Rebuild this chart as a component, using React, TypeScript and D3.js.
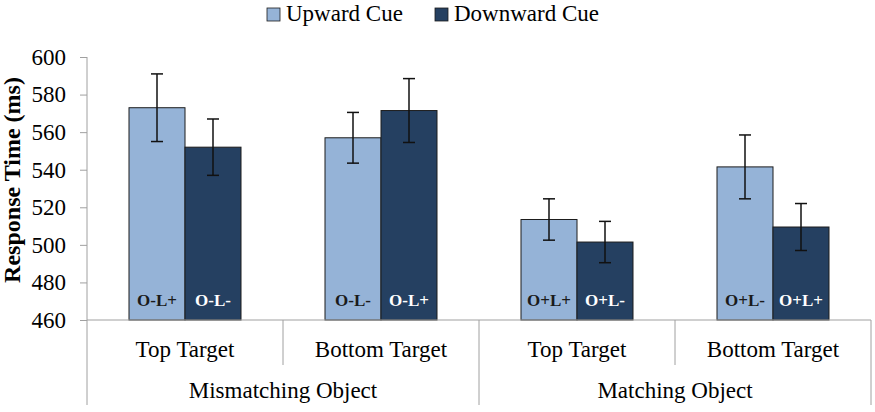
import React, { useRef, useEffect } from "react";
import * as d3 from "d3";

// data
const targets = ["Top Target", "Bottom Target", "Top Target", "Bottom Target"];
const objects = ["Mismatching Object", "Matching Object"];
const seriesNames = ["Upward Cue", "Downward Cue"];
const upward = [573, 557, 513.5, 541.5];
const downward = [552, 571.5, 501.5, 509.5];
const upwardErr = [18, 13.5, 11, 17];
const downwardErr = [15, 17, 11, 12.5];
const upwardTags = ["O-L+", "O-L-", "O+L+", "O+L-"];
const downwardTags = ["O-L-", "O-L+", "O+L-", "O+L+"];
const yTicks = [460, 480, 500, 520, 540, 560, 580, 600];

const colors = ["#95B3D7", "#254061"];
const tagColors = ["#1a1a1a", "#ffffff"];
const axisColor = "#a0a0a0";
const font = "Liberation Serif";

export default function App() {
  const ref = useRef<SVGSVGElement | null>(null);

  useEffect(() => {
    const W = 875;
    const H = 412;
    const left = 87;
    const right = 871;
    const top = 57;
    const bottom = 320;

    const svg = d3.select(ref.current);
    svg.selectAll("*").remove();
    svg.attr("width", W).attr("height", H).style("font-family", font);

    const idx = targets.map((d, i) => String(i));
    const x0 = d3.scaleBand().domain(idx).range([left, right]).padding(0);
    const x1 = d3
      .scaleBand()
      .domain(seriesNames)
      .range([0, x0.bandwidth()])
      .paddingInner(0)
      .paddingOuter(0.75);
    const y = d3.scaleLinear().domain([460, 600]).range([bottom, top]);

    // bars
    const rows = targets.map((t, i) => [
      { s: 0, v: upward[i], e: upwardErr[i], tag: upwardTags[i] },
      { s: 1, v: downward[i], e: downwardErr[i], tag: downwardTags[i] },
    ]);

    const g = svg
      .selectAll(".grp")
      .data(rows)
      .enter()
      .append("g")
      .attr("transform", (d, i) => `translate(${x0(String(i))},0)`);

    g.selectAll("rect")
      .data((d) => d)
      .enter()
      .append("rect")
      .attr("x", (d) => x1(seriesNames[d.s])!)
      .attr("y", (d) => y(d.v))
      .attr("width", x1.bandwidth())
      .attr("height", (d) => y(460) - y(d.v))
      .attr("fill", (d) => colors[d.s])
      .attr("stroke", "#1c1c1c")
      .attr("stroke-width", 1);

    g.selectAll(".tag")
      .data((d) => d)
      .enter()
      .append("text")
      .attr("x", (d) => x1(seriesNames[d.s])! + x1.bandwidth() / 2)
      .attr("y", 306)
      .attr("text-anchor", "middle")
      .style("font-family", font)
      .attr("font-weight", "bold")
      .attr("font-size", 17)
      .attr("fill", (d) => tagColors[d.s])
      .text((d) => d.tag);

    // error bars
    const eb = g
      .selectAll(".err")
      .data((d) => d)
      .enter()
      .append("g")
      .attr("stroke", "#111")
      .attr("stroke-width", 1.5);
    const cx = (d: any) => x1(seriesNames[d.s])! + x1.bandwidth() / 2;
    eb.append("line")
      .attr("x1", cx)
      .attr("x2", cx)
      .attr("y1", (d) => y(d.v + d.e))
      .attr("y2", (d) => y(d.v - d.e));
    eb.append("line")
      .attr("x1", (d) => cx(d) - 6)
      .attr("x2", (d) => cx(d) + 6)
      .attr("y1", (d) => y(d.v + d.e))
      .attr("y2", (d) => y(d.v + d.e));
    eb.append("line")
      .attr("x1", (d) => cx(d) - 6)
      .attr("x2", (d) => cx(d) + 6)
      .attr("y1", (d) => y(d.v - d.e))
      .attr("y2", (d) => y(d.v - d.e));

    // y axis
    const yAxis = svg
      .append("g")
      .attr("transform", `translate(${left},0)`)
      .call(d3.axisLeft(y).tickValues(yTicks).tickSize(7).tickPadding(14));
    yAxis.select(".domain").remove();
    yAxis.selectAll("line").attr("stroke", axisColor);
    yAxis
      .attr("font-family", null)
      .selectAll("text")
      .style("font-family", font)
      .attr("font-size", 23)
      .attr("fill", "#000");
    svg
      .append("line")
      .attr("x1", left)
      .attr("x2", left)
      .attr("y1", top)
      .attr("y2", 405)
      .attr("stroke", axisColor);

    // x axis with category dividers
    svg
      .append("line")
      .attr("x1", left)
      .attr("x2", right)
      .attr("y1", bottom)
      .attr("y2", bottom)
      .attr("stroke", axisColor);
    targets.forEach((t, i) => {
      const bx = x0(String(i))! + x0.bandwidth();
      const outer = i % 2 === 1;
      svg
        .append("line")
        .attr("x1", bx)
        .attr("x2", bx)
        .attr("y1", bottom)
        .attr("y2", outer ? 405 : 365)
        .attr("stroke", axisColor);
      svg
        .append("text")
        .attr("x", x0(String(i))! + x0.bandwidth() / 2)
        .attr("y", 357)
        .attr("text-anchor", "middle")
        .style("font-family", font)
        .attr("font-size", 23)
        .text(t);
    });
    objects.forEach((o, k) => {
      const a = x0(String(k * 2))!;
      const b = x0(String(k * 2 + 1))! + x0.bandwidth();
      svg
        .append("text")
        .attr("x", (a + b) / 2)
        .attr("y", 398)
        .attr("text-anchor", "middle")
        .style("font-family", font)
        .attr("font-size", 23)
        .text(o);
    });

    // y title
    svg
      .append("text")
      .attr("transform", `translate(20,180) rotate(-90)`)
      .attr("text-anchor", "middle")
      .style("font-family", font)
      .attr("font-weight", "bold")
      .attr("font-size", 24)
      .text("Response Time (ms)");

    // legend
    const legX = [267, 435];
    seriesNames.forEach((s, i) => {
      svg
        .append("rect")
        .attr("x", legX[i])
        .attr("y", 8)
        .attr("width", 13)
        .attr("height", 13)
        .attr("fill", colors[i])
        .attr("stroke", "#1c1c1c")
        .attr("stroke-width", 0.8);
      svg
        .append("text")
        .attr("x", legX[i] + 19)
        .attr("y", 21)
        .style("font-family", font)
        .attr("font-size", 23)
        .text(s);
    });
  }, []);

  return (
    <svg
      ref={ref}
      style={{ position: "absolute", left: 0, top: 0, background: "#fff" }}
    />
  );
}
